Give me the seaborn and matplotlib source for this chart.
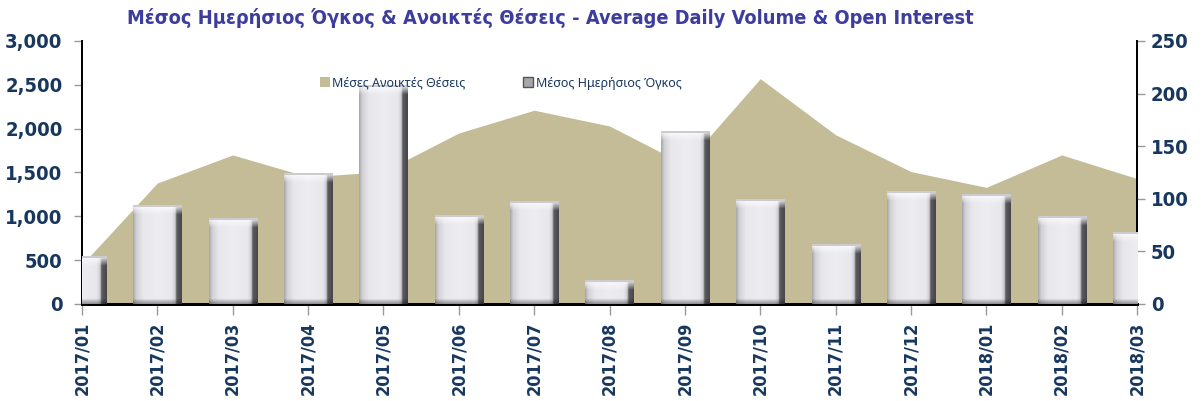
import numpy as np
import pandas as pd
import matplotlib
matplotlib.use("Agg")
import matplotlib.pyplot as plt
import seaborn as sns
from matplotlib.patches import Patch
from matplotlib.ticker import FuncFormatter

months = ["2017/01", "2017/02", "2017/03", "2017/04", "2017/05", "2017/06", "2017/07",
          "2017/08", "2017/09", "2017/10", "2017/11", "2017/12", "2018/01", "2018/02", "2018/03"]
open_interest = [450, 1380, 1700, 1450, 1510, 1950, 2210, 2030, 1590, 2570, 1930, 1510, 1330, 1700, 1430]
daily_volume = [45, 94, 81, 124, 208, 84, 97, 22, 164, 99, 57, 107, 104, 83, 68]
left_ticks = [0, 500, 1000, 1500, 2000, 2500, 3000]
right_ticks = [0, 50, 100, 150, 200, 250]

title = "Μέσος Ημερήσιος Όγκος & Ανοικτές Θέσεις - Average Daily Volume & Open Interest"
oi_label = "Μέσες Ανοικτές Θέσεις"
vol_label = "Μέσος Ημερήσιος Όγκος"

sns.set_theme(style="white")
narrow = ["DejaVu Sans", "Roboto"]
plt.rcParams["font.family"] = narrow
plt.rcParams["font.stretch"] = "condensed"

AREA = "#C4BC96"
NAVY = "#17375E"
TITLE_C = "#3D3D9E"

fig = plt.figure(figsize=(12.02, 4.01), dpi=100)
ax1 = fig.add_axes([0.0682, 0.2419, 0.8778, 0.656])
ax2 = ax1.twinx()

x = np.arange(len(months))
ax1.fill_between(x, open_interest, color=AREA, lw=0, zorder=1)

df = pd.DataFrame({"month": months, "volume": daily_volume})
sns.barplot(data=df, x="month", y="volume", ax=ax2, color="#E6E6E8",
            width=0.64, saturation=1, edgecolor="none")

ax2.set_ylim(0, 250)
ax1.set_ylim(0, 3000)
ax1.set_xlim(0, len(months) - 1)

# bevel-like shading for bars
fig.canvas.draw()
px_per_unit = ax2.transData.transform((0, 1))[1] - ax2.transData.transform((0, 0))[1]
prof_t = [0.0, 0.06, 0.2, 0.5, 0.8, 0.87, 0.9, 1.0]
prof_g = [0.66, 0.82, 0.91, 0.93, 0.91, 0.80, 0.36, 0.28]
W = 60
hprof = np.interp(np.linspace(0, 1, W), prof_t, prof_g)
for p in list(ax2.patches):
    x0, y0 = p.get_x(), p.get_y()
    w, h = p.get_width(), p.get_height()
    H = max(int(round(h * px_per_unit)), 4)
    img = np.tile(hprof, (H, 1))
    rows = np.arange(H)[:, None]
    top = 9.0
    fade = np.clip(1 - rows / top, 0, 1)
    img = img + (0.99 - img) * fade * 0.9
    img[0:2, :] = np.minimum(img[0:2, :], 0.8)
    bot = 6.0
    bfade = np.clip((rows - (H - bot)) / bot, 0, 1)
    img = img * (1 - 0.45 * bfade)
    rgb = np.dstack([img, img, np.clip(img + 0.015, 0, 1)])
    im = ax2.imshow(rgb, extent=(x0, x0 + w, y0, y0 + h), aspect="auto",
                    origin="upper", zorder=3, interpolation="bilinear")
    im.set_clip_path(p)
    im.set_clip_box(ax2.bbox)

ax2.set_ylim(0, 250)
ax1.set_ylim(0, 3000)
ax1.set_xlim(0, len(months) - 1)

ax1.set_xticks(x)
ax1.set_xticklabels(months, rotation=90)
ax1.set_yticks(left_ticks)
ax1.yaxis.set_major_formatter(FuncFormatter(lambda v, _: f"{int(v):,}"))
ax2.set_yticks(right_ticks)
ax1.set_xlabel("")
ax1.set_ylabel("")
ax2.set_ylabel("")
ax2.set_xlabel("")

for lab in ax1.get_xticklabels():
    lab.set_fontsize(13)
    lab.set_fontweight("bold")
    lab.set_color(NAVY)
for lab in ax1.get_yticklabels() + ax2.get_yticklabels():
    lab.set_fontsize(14.5)
    lab.set_fontweight("bold")
    lab.set_color(NAVY)

ax1.tick_params(axis="x", direction="out", length=8, width=1, color="#999999", pad=5, bottom=True)
ax1.tick_params(axis="y", direction="out", length=6, width=1, color="#999999", pad=8, left=True)
ax2.tick_params(axis="y", direction="out", length=6, width=1, color="#999999", pad=4, right=True)

for ax in (ax1, ax2):
    ax.spines["top"].set_visible(False)
    for s in ("left", "right", "bottom"):
        ax.spines[s].set_color("black")
        ax.spines[s].set_linewidth(1.3)
ax1.spines["bottom"].set_linewidth(2)
ax2.spines["bottom"].set_linewidth(2)
ax1.grid(False)
ax2.grid(False)

handles = [Patch(facecolor=AREA, edgecolor="none", label=oi_label),
           Patch(facecolor="#A8A8AC", edgecolor="#555555", label=vol_label)]
leg = fig.legend(handles=handles, loc="center", bbox_to_anchor=(0.4165, 0.793), ncol=2,
                 frameon=False, handlelength=0.8, handleheight=0.8,
                 handletextpad=0.2, columnspacing=4.6,
                 prop={"family": ["Noto Sans", "DejaVu Sans"], "size": 9, "stretch": "normal"})
for t in leg.get_texts():
    t.set_color(NAVY)

fig.text(0.4576, 0.955, title, ha="center", va="center", fontsize=14.3, fontweight="bold",
         color=TITLE_C, family=narrow)

fig.savefig("out.png", dpi=100)
